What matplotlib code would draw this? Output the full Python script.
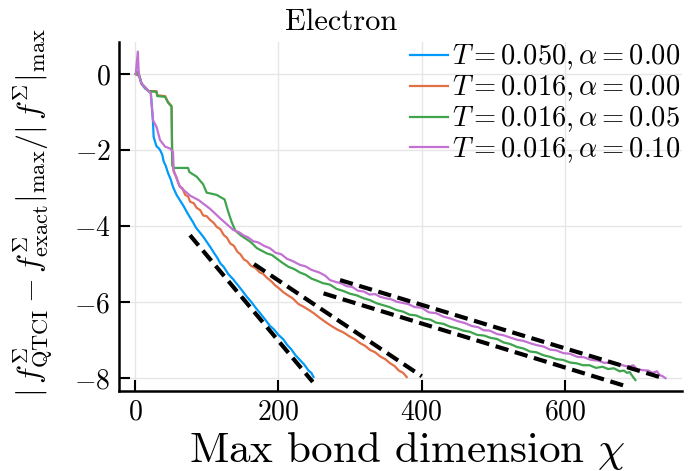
import matplotlib
matplotlib.use("Agg")
import matplotlib.pyplot as plt

plt.rcParams['font.family'] = 'serif'
plt.rcParams['font.serif'] = ['cmr10']
plt.rcParams['mathtext.fontset'] = 'cm'
plt.rcParams['axes.formatter.use_mathtext'] = True
plt.rcParams['axes.unicode_minus'] = True

# ---- data ----
blue_x = [1, 6, 9, 14, 19, 22, 23, 25, 26, 28, 30, 33, 35, 38, 40, 43, 46, 50, 53, 58, 63, 68, 72,
          77, 81, 85, 91, 96, 101, 105, 110, 115, 119, 124, 130, 137, 142, 148, 152, 156, 162,
          168, 174, 180, 188, 194, 200, 207, 212, 218, 224, 230, 236, 242, 246, 249]
blue_y = [0.0, -0.05, -0.25, -0.38, -0.45, -0.5, -0.73, -1.2, -1.65, -1.78, -1.9, -1.95, -2.0,
          -2.12, -2.3, -2.42, -2.6, -2.78, -2.97, -3.18, -3.33, -3.48, -3.62, -3.78, -3.90, -4.04,
          -4.18, -4.30, -4.44, -4.55, -4.70, -4.84, -4.98, -5.08, -5.26, -5.40, -5.52, -5.66,
          -5.76, -5.86, -5.99, -6.14, -6.28, -6.42, -6.62, -6.72, -6.86, -6.98, -7.12, -7.24,
          -7.40, -7.52, -7.64, -7.80, -7.86, -7.97]

orange_x = [1, 6, 9, 19, 30, 31, 42, 46, 51, 52, 54, 58, 62, 66, 70, 74, 77, 82, 86, 91, 95, 100,
            105, 110, 114, 119, 124, 128, 133, 138, 143, 147, 152, 156, 162, 168, 174, 179, 184,
            190, 195, 201, 207, 214, 220, 228, 235, 242, 250, 258, 267, 275, 283, 291, 300, 307,
            314, 321, 328, 335, 342, 349, 356, 362, 368, 374, 379]
orange_y = [0.0, -0.05, -0.25, -0.45, -0.45, -0.56, -0.58, -0.73, -0.84, -2.3, -2.57, -2.72, -2.95,
            -3.0, -3.18, -3.22, -3.36, -3.40, -3.52, -3.58, -3.72, -3.74, -3.84, -3.92, -4.02,
            -4.08, -4.24, -4.30, -4.46, -4.52, -4.68, -4.74, -4.88, -4.92, -5.05, -5.10, -5.22,
            -5.26, -5.36, -5.45, -5.55, -5.64, -5.74, -5.83, -5.90, -6.05, -6.12, -6.20, -6.30,
            -6.42, -6.54, -6.64, -6.73, -6.80, -6.91, -6.98, -7.08, -7.15, -7.26, -7.32, -7.43,
            -7.50, -7.61, -7.68, -7.80, -7.86, -7.97]

green_x = [1, 3, 6, 9, 19, 30, 31, 42, 46, 51, 52, 54, 74, 76, 86, 95, 100, 114, 125, 130, 135,
           140, 148, 156, 162, 170, 176, 184, 191, 198, 206, 214, 222, 230, 238, 246, 253, 262,
           272, 281, 291, 300, 309, 319, 328, 337, 346, 355, 365, 374, 383, 392, 402, 412, 420,
           430, 440, 449, 458, 467, 477, 487, 496, 505, 514, 523, 533, 542, 551, 560, 570, 579,
           588, 597, 607, 616, 625, 634, 643, 652, 660, 668, 676, 682, 686, 690, 694, 698]
green_y = [0.0, 0.06, -0.05, -0.25, -0.45, -0.47, -0.58, -0.6, -0.75, -0.86, -2.4, -2.47, -2.47,
           -2.58, -2.7, -2.9, -3.12, -3.18, -3.3, -3.62, -3.9, -4.12, -4.25, -4.35, -4.43, -4.58,
           -4.64, -4.72, -4.76, -4.86, -4.97, -5.07, -5.13, -5.22, -5.28, -5.38, -5.43, -5.50,
           -5.54, -5.65, -5.71, -5.78, -5.82, -5.90, -5.95, -6.03, -6.08, -6.13, -6.21, -6.25,
           -6.33, -6.35, -6.43, -6.46, -6.54, -6.57, -6.65, -6.69, -6.75, -6.78, -6.86, -6.88,
           -6.94, -6.97, -7.06, -7.10, -7.18, -7.22, -7.30, -7.32, -7.40, -7.44, -7.50, -7.52,
           -7.59, -7.61, -7.66, -7.66, -7.73, -7.70, -7.76, -7.74, -7.82, -7.80, -7.86, -7.84,
           -7.95, -8.05]

purple_x = [1, 4, 5, 6, 9, 19, 22, 23, 25, 30, 35, 42, 49, 53, 54, 59, 63, 77, 89, 105, 119, 125,
            137, 145, 152, 158, 165, 172, 180, 188, 196, 204, 212, 220, 230, 238, 246, 257, 265,
            272, 280, 288, 295, 303, 311, 319, 327, 335, 342, 350, 358, 365, 373, 381, 390, 400,
            410, 420, 430, 440, 450, 460, 470, 479, 486, 495, 505, 514, 523, 533, 542, 551, 560,
            570, 579, 588, 597, 607, 617, 626, 636, 646, 655, 664, 672, 680, 688, 695, 700, 708,
            716, 722, 728, 732, 736, 740]
purple_y = [0.0, 0.59, 0.1, -0.05, -0.25, -0.45, -0.5, -0.73, -1.21, -1.39, -1.74, -1.91, -1.96,
            -2.05, -2.53, -2.8, -2.97, -3.2, -3.32, -3.55, -3.8, -3.9, -4.10, -4.16, -4.25, -4.30,
            -4.40, -4.43, -4.52, -4.58, -4.70, -4.74, -4.86, -4.92, -5.02, -5.06, -5.15, -5.22,
            -5.30, -5.42, -5.47, -5.51, -5.58, -5.60, -5.70, -5.72, -5.80, -5.79, -5.86, -5.90,
            -5.93, -5.99, -6.02, -6.05, -6.13, -6.15, -6.27, -6.29, -6.38, -6.43, -6.50, -6.55,
            -6.63, -6.66, -6.74, -6.75, -6.84, -6.87, -6.93, -6.99, -7.02, -7.08, -7.13, -7.17,
            -7.25, -7.27, -7.34, -7.36, -7.44, -7.45, -7.52, -7.54, -7.60, -7.58, -7.64, -7.66,
            -7.70, -7.66, -7.76, -7.79, -7.80, -7.86, -7.82, -7.92, -7.95, -8.00]

labels = [r'$T = 0.050, \alpha = 0.00$', r'$T = 0.016, \alpha = 0.00$',
          r'$T = 0.016, \alpha = 0.05$', r'$T = 0.016, \alpha = 0.10$']
colors = ['#009AFA', '#E36F47', '#3EA44E', '#C371D2']

fit_x = [[76.7, 248], [166, 400], [286, 737], [263, 688]]
fit_y = [[-4.24, -8.1], [-5.0, -7.95], [-5.42, -8.0], [-5.77, -8.23]]

x_ticks = [0, 200, 400, 600]
y_ticks = [0, -2, -4, -6, -8]

# ---- figure ----
fig = plt.figure(figsize=(6.93, 4.71), dpi=100)
ax = fig.add_axes([119/693, 1-390.7/471, (682-119)/693, (390.7-41.7)/471])

series = [(blue_x, blue_y), (orange_x, orange_y), (green_x, green_y), (purple_x, purple_y)]
for (xs, ys), c, lab in zip(series, colors, labels):
    ax.plot(xs, ys, color=c, lw=1.6, label=lab)
for fx, fy in zip(fit_x, fit_y):
    ax.plot(fx, fy, color='black', lw=3.0, linestyle=(0, (3.2, 1.6)), solid_capstyle='butt')

ax.set_xlim(-22.3, 763)
ax.set_ylim(-8.33, 0.85)
ax.set_xticks(x_ticks)
ax.set_yticks(y_ticks)
ax.grid(True, color='#e6e6e6', lw=1.0)
ax.set_axisbelow(True)
for s in ['top', 'right']:
    ax.spines[s].set_visible(False)
for s in ['left', 'bottom']:
    ax.spines[s].set_linewidth(1.8)
ax.tick_params(direction='in', length=8, width=1.5, labelsize=20, pad=6)

ax.legend(loc='upper left', bbox_to_anchor=(410/693, 1-43/471), bbox_transform=fig.transFigure,
          frameon=False, fontsize=20.5, handlelength=1.35, handletextpad=0.12,
          labelspacing=0.05, borderpad=0, borderaxespad=0)

fig.text(341/693, 1-22/471, 'Electron', ha='center', va='center', fontsize=22)
fig.text(407/693, 1-462/471, r'Max bond dimension $\chi$', ha='center', va='baseline', fontsize=31)
fig.text(33/693, 1-213/471,
         r'$|\, f^{\Sigma}_{\rm QTCI} - f^{\Sigma}_{\rm exact}|_{\max} / |\, f^{\Sigma}|_{\max}$',
         ha='center', va='center', rotation=90, fontsize=23)

fig.savefig('out.png', dpi=100)
